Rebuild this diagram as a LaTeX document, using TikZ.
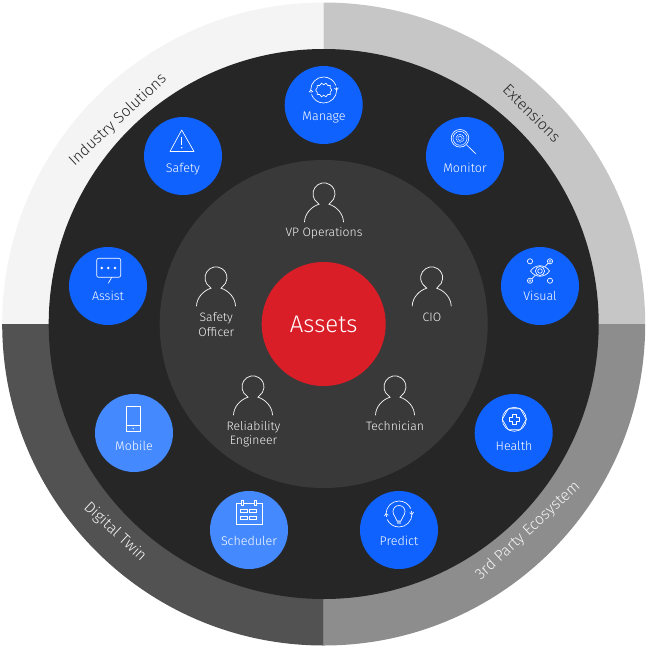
\documentclass[tikz,border=0pt]{standalone}
\usepackage{fontspec}
\setmainfont{Fira Sans}[UprightFont=* Light]
\usetikzlibrary{arrows.meta}
\definecolor{ringA}{HTML}{F4F4F4}
\definecolor{ringB}{HTML}{C6C6C6}
\definecolor{ringC}{HTML}{8D8D8D}
\definecolor{ringD}{HTML}{525252}
\definecolor{discDark}{HTML}{262626}
\definecolor{discMid}{HTML}{393939}
\definecolor{appBlue}{HTML}{0F62FE}
\definecolor{appLight}{HTML}{4589FF}
\definecolor{coreRed}{HTML}{DA1E28}
\tikzset{
  disc/.style={circle,inner sep=0pt,minimum size=#1,draw=none},
  app/.style={disc=78pt,fill=appBlue},
  applight/.style={disc=78pt,fill=appLight},
  applabel/.style={text=white,font=\fontsize{12.5}{14}\selectfont,inner sep=0pt},
  rolelabel/.style={text=ringA,font=\fontsize{12.2}{14.4}\selectfont,inner sep=0pt,align=center},
  ringlabel/.style={font=\fontsize{15.5}{18}\selectfont,inner sep=0pt},
  ico/.style={draw=white,line width=0.65pt,fill=none},
  person/.pic={
    \draw[draw=ringA,line width=0.75pt,line cap=round]
      (-19.5,28) .. controls (-19.2,19.5) and (-12.5,12.5) .. (-5,10.2) -- (-6.2,9)
      arc[start angle=124,end angle=416,radius=11]
      -- (5,10.2) .. controls (12.5,12.5) and (19.2,19.5) .. (19.5,28);
  },
  icosafety/.pic={
    \draw[ico,line join=round] (-1.3,-26) -- (-13,-4.5) -- (11,-4.5) -- cycle;
    \draw[ico] (-1.3,-19) -- (-1.3,-11);
    \fill[white] (-1.3,-8.3) circle[radius=0.8];
  },
  icomanage/.pic={
    \draw[ico] (-13,-15) arc[start angle=180,end angle=340,radius=13];
    \draw[ico] (13,-15) arc[start angle=0,end angle=160,radius=13];
    \draw[ico,-{Straight Barb[length=2pt,width=4pt]}] (12.6,-18) -- (12.9,-14.6);
    \draw[ico,-{Straight Barb[length=2pt,width=4pt]}] (-12.6,-12) -- (-12.9,-15.4);
    \draw[ico,line join=round] plot[smooth cycle,tension=0.35] coordinates {
      (8,-15) (6.4,-12.6) (6.6,-10.3) (4.1,-10.6) (2.2,-8.2) (0,-9.8) (-2.2,-8.2) (-4.1,-10.6)
      (-6.6,-10.3) (-6.4,-12.6) (-8,-15) (-6.4,-17.4) (-6.6,-19.7) (-4.1,-19.4) (-2.2,-21.8)
      (0,-20.2) (2.2,-21.8) (4.1,-19.4) (6.6,-19.7) (6.4,-17.4)};
  },
  icomonitor/.pic={
    \draw[ico] (-5,-17.7) circle[radius=8.8];
    \draw[ico,dash pattern=on 1pt off 0.5pt] (-5,-17.7) circle[radius=7];
    \draw[ico,dash pattern=on 1pt off 0.7pt] (-5,-17.7) circle[radius=4];
    \draw[ico,dash pattern=on 1pt off 0.7pt] (-5,-17.7) circle[radius=2.2];
    \draw[ico] (1.7,-11) -- (11,-2);
  },
  icovisual/.pic={
    \draw[ico] (-9.5,-15) .. controls (-5,-22) and (5,-22) .. (9.5,-15)
      .. controls (5,-8) and (-5,-8) .. (-9.5,-15) -- cycle;
    \draw[ico] (0,-15) circle[radius=4.6];
    \draw[ico] (0,-15) circle[radius=2.3];
    \draw[ico] (-10,-24.7) circle[radius=2.6];
    \draw[ico] (10,-5.3) circle[radius=2.6];
    \draw[ico] (10,-24.7) circle[radius=2.6];
    \draw[ico] (-10,-5.3) circle[radius=2.6];
    \fill[white,opacity=.55] (10,-24.7) circle[radius=1.6];
    \fill[white,opacity=.55] (-10,-5.3) circle[radius=1.6];
    \draw[ico] (8.2,-22.8) -- (4.5,-19);
    \draw[ico] (-8.2,-7.2) -- (-4.5,-11);
  },
  icohealth/.pic={
    \draw[ico] (0.6,-13.7) circle[radius=12];
    \draw[ico] (-5.4,-24.2) -- (6.6,-24.2) -- (12.6,-13.7) -- (6.6,-3.2) -- (-5.4,-3.2) -- (-11.4,-13.7) -- cycle;
    \draw[ico,line join=round] (-1.3,-19) -- (2.5,-19) -- (2.5,-15.6) -- (5.9,-15.6) -- (5.9,-11.8) -- (2.5,-11.8) -- (2.5,-8.4)
      -- (-1.3,-8.4) -- (-1.3,-11.8) -- (-4.7,-11.8) -- (-4.7,-15.6) -- (-1.3,-15.6) -- cycle;
  },
  icopredict/.pic={
    \draw[ico] (13,-16) arc[start angle=0,end angle=155,radius=13];
    \draw[ico] (-13,-16) arc[start angle=180,end angle=335,radius=13];
    \draw[ico,-{Straight Barb[length=2pt,width=4pt]}] (12.4,-19) -- (13,-15.2);
    \draw[ico,-{Straight Barb[length=2pt,width=4pt]}] (-12.4,-13) -- (-13,-16.8);
    \draw[ico,line join=round] (-2,-9) .. controls (-2.4,-13) and (-6,-14) .. (-6,-18.5)
      arc[start angle=180,end angle=360,radius=6]
      .. controls (6,-14) and (2.4,-13) .. (2,-9) -- cycle;
    \fill[white,opacity=.5] (-2,-9) rectangle (2,-6);
  },
  icoscheduler/.pic={
    \draw[ico] (-12.3,-27) rectangle (13,-6);
    \draw[ico,fill=appLight] (-7.2,-30) rectangle (-5.2,-24.5);
    \draw[ico,fill=appLight] (5.2,-30) rectangle (7.2,-24.5);
    \draw[ico] (-9,-20.7) rectangle (-2,-17.3);
    \draw[ico] (0.5,-20.7) rectangle (7.7,-17.3);
    \draw[ico] (-9,-14) rectangle (-2,-10.7);
    \draw[ico] (0.5,-14) rectangle (7.7,-10.7);
  },
  icomobile/.pic={
    \draw[ico] (-8,-27) rectangle (6.7,-1.3);
    \draw[ico] (-8,-7.3) -- (6.7,-7.3);
    \fill[white] (-0.7,-4.4) circle[radius=0.7];
  },
  icoassist/.pic={
    \draw[ico,rounded corners=2pt] (-11.3,-27.7) rectangle (12.7,-8.7);
    \draw[ico] (3.7,-8.7) -- (0.3,-2.7);
    \foreach \dx in {-6.3,0.3,7} \fill[white] (\dx,-18) circle[radius=1.4];
  }
}
\begin{document}
\begin{tikzpicture}[x=1pt,y=-1pt]
\useasboundingbox (0,0) rectangle (648,648);
\coordinate (c) at (323.7,324);
\fill[ringA] (c) -- ++(0,-321.5) arc[start angle=-90,end angle=-180,radius=321.5] -- cycle;
\fill[ringB] (c) -- ++(0,-321.5) arc[start angle=-90,end angle=0,radius=321.5] -- cycle;
\fill[ringC] (c) -- ++(321.5,0) arc[start angle=0,end angle=90,radius=321.5] -- cycle;
\fill[ringD] (c) -- ++(0,321.5) arc[start angle=90,end angle=180,radius=321.5] -- cycle;
\node[disc=550pt,fill=discDark] (outer) at (c) {};
\node[disc=328pt,fill=discMid] (inner) at (c) {};
\node[disc=124pt,fill=coreRed,text=white,font=\fontsize{24}{28}\selectfont] (assets) at (c) {Assets};

\node[ringlabel,text=discDark,rotate=43] (lblindustry) at (118,120) {Industry Solutions};
\node[ringlabel,text=discDark,rotate=-45] (lblext) at (532,113) {Extensions};
\node[ringlabel,text=ringA,rotate=43] (lblthird) at (528,531) {3rd Party Ecosystem};
\node[ringlabel,text=ringA,rotate=-43] (lbltwin) at (115,532) {Digital Twin};

\node[app] (manage) at (323.7,105) {};
\node[app] (safety) at (183,156) {};
\node[app] (monitor) at (465,156) {};
\node[app] (visual) at (540,286) {};
\node[app] (health) at (513.7,433) {};
\node[app] (predict) at (399,530) {};
\node[applight] (scheduler) at (249,530) {};
\node[applight] (mobile) at (134,433) {};
\node[app] (assist) at (108,286) {};

\pic at (manage.center) {icomanage};
\pic at (safety.center) {icosafety};
\pic at (monitor.center) {icomonitor};
\pic at (visual.center) {icovisual};
\pic at (health.center) {icohealth};
\pic at (predict.center) {icopredict};
\pic at (scheduler.center) {icoscheduler};
\pic at (mobile.center) {icomobile};
\pic at (assist.center) {icoassist};

\node[applabel] (tmanage) at (324,117.5) {Manage};
\node[applabel] (tsafety) at (183,169) {Safety};
\node[applabel] (tmonitor) at (465,168) {Monitor};
\node[applabel] (tvisual) at (540,296) {Visual};
\node[applabel] (thealth) at (514,445.5) {Health};
\node[applabel] (tpredict) at (399,541) {Predict};
\node[applabel] (tscheduler) at (249,541) {Scheduler};
\node[applabel] (tmobile) at (134,446) {Mobile};
\node[applabel] (tassist) at (108,296) {Assist};

\pic at (324,194) {person};
\pic at (216,278) {person};
\pic at (431.7,278) {person};
\pic at (253,387) {person};
\pic at (395,387) {person};

\node[rolelabel] (rvp) at (324,233) {VP Operations};
\node[rolelabel] (rsafety) at (216.3,324.5) {Safety\\Officer};
\node[rolelabel] (rcio) at (432,317) {CIO};
\node[rolelabel] (rrel) at (253.5,434) {Reliability\\Engineer};
\node[rolelabel] (rtech) at (395,426) {Technician};
\end{tikzpicture}
\end{document}
